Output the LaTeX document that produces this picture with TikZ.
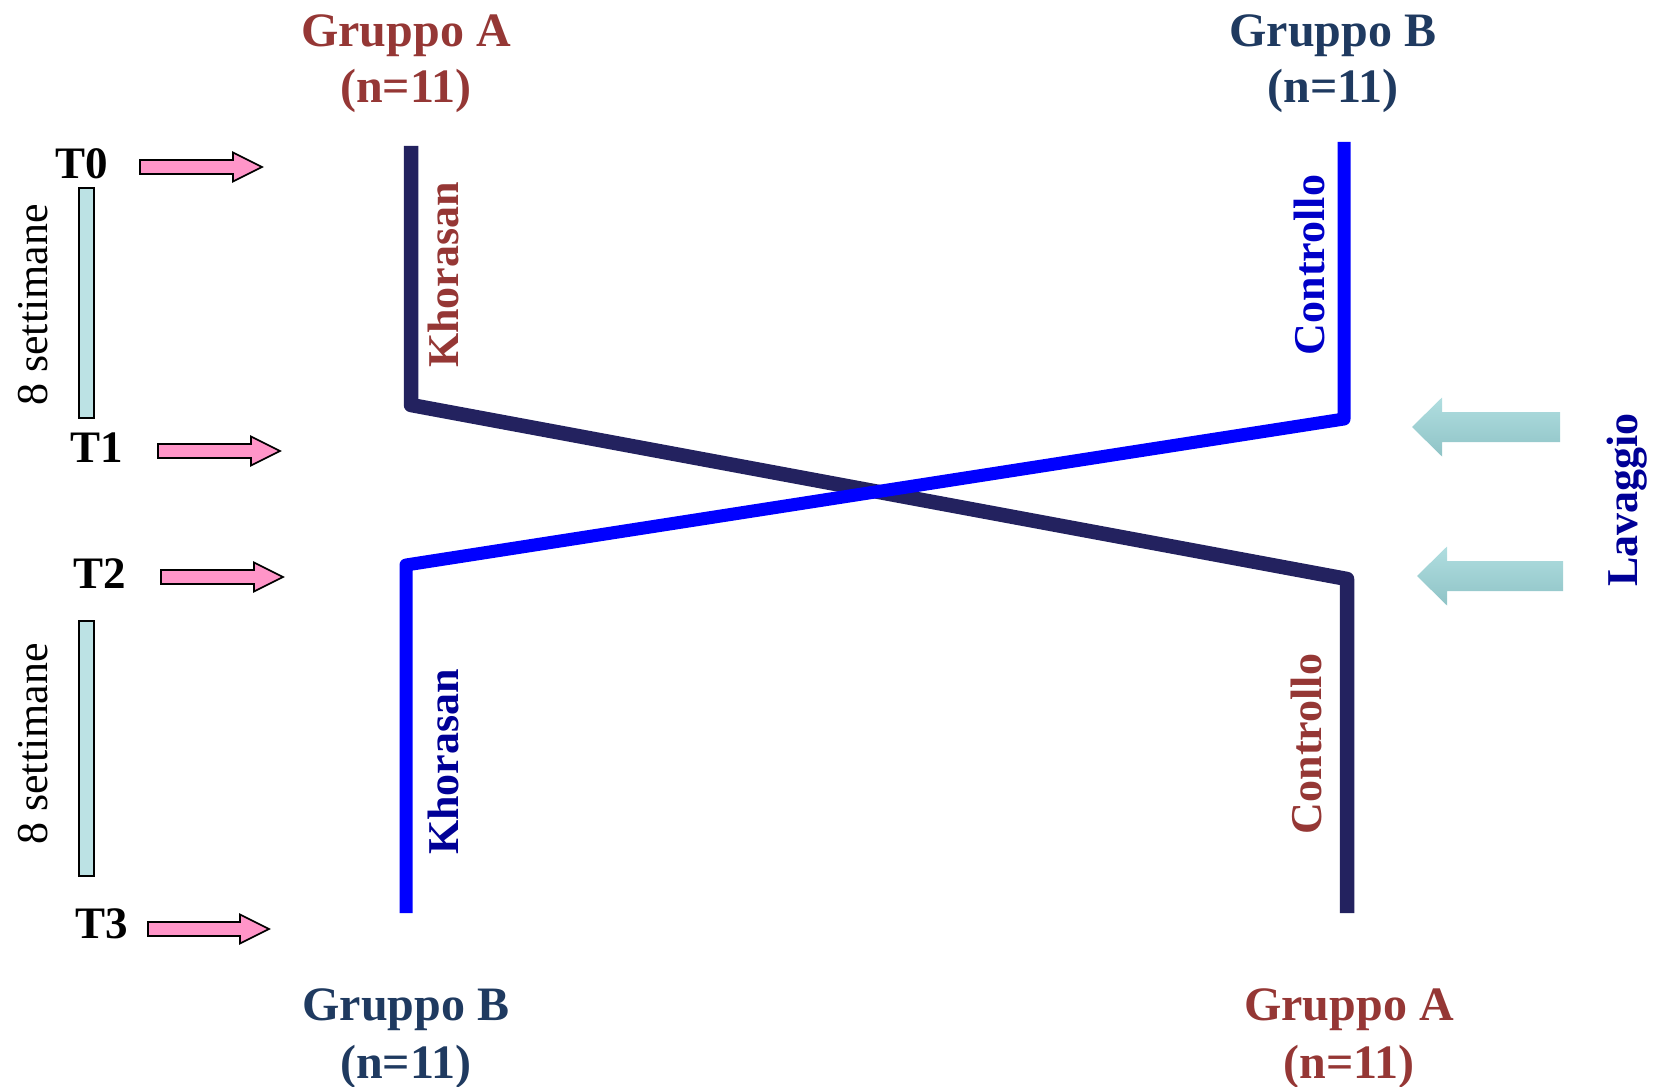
\documentclass[tikz,border=0pt]{standalone}
\usepackage{fontspec}
\setmainfont{Liberation Serif}
\usetikzlibrary{calc}
\definecolor{dred}{HTML}{953735}
\definecolor{dnavy}{HTML}{1F3A60}
\definecolor{linenavy}{HTML}{23225F}
\definecolor{lineblue}{HTML}{0000FF}
\definecolor{txtblue}{HTML}{0000C8}
\definecolor{txtdblue}{HTML}{000096}
\definecolor{pinkf}{HTML}{FF95C8}
\definecolor{barf}{HTML}{BCE2E4}
\definecolor{tealtop}{HTML}{B0DEE0}
\definecolor{tealbot}{HTML}{8FC3C6}
\newcommand\pinkarr[3]{%
  \filldraw[fill=pinkf,draw=black,line width=1.6pt,line join=miter]
  (#1,#3-7)--(#2-29,#3-7)--(#2-29,#3-14.5)--(#2,#3)--(#2-29,#3+14.5)--(#2-29,#3+7)--(#1,#3+7)--cycle;}
\newcommand\tealarr[3]{%
  \shade[top color=tealtop,bottom color=tealbot,draw=none]
  (#1,#3-15)--(#2+30,#3-15)--(#2+30,#3-29.5)--(#2,#3)--(#2+30,#3+29.5)--(#2+30,#3+15)--(#1,#3+15)--cycle;}
\begin{document}
\begin{tikzpicture}[x=1pt,y=-1pt,
  title/.style={font=\fontsize{48}{50}\selectfont\bfseries,align=center,inner sep=0pt},
  vlab/.style={font=\fontsize{44}{48}\selectfont\bfseries,rotate=90,inner sep=0pt},
  tlab/.style={font=\fontsize{45}{48}\selectfont\bfseries,inner sep=0pt},
  slab/.style={font=\fontsize{44}{48}\selectfont,rotate=90,inner sep=0pt},
  groupline/.style={line width=14.5pt,line join=round,line cap=butt},
  bar/.style={fill=barf,draw=black,line width=1.6pt}]
\useasboundingbox (0,0) rectangle (1661,1086);
% titles
\node[title,text=dred] (gA1) at (406,36) {Gruppo A};
\node[title,text=dred] (nA1) at (406,91) {(n=11)};
\node[title,text=dnavy] (gB1) at (1333,36) {Gruppo B};
\node[title,text=dnavy] (nB1) at (1333,91) {(n=11)};
\node[title,text=dnavy] (gB2) at (406,1010) {Gruppo B};
\node[title,text=dnavy] (nB2) at (406,1067) {(n=11)};
\node[title,text=dred] (gA2) at (1349,1010) {Gruppo A};
\node[title,text=dred] (nA2) at (1349,1067) {(n=11)};
% group lines
\coordinate (a0) at (411,146);
\coordinate (a1) at (411,405);
\coordinate (a2) at (1347,579);
\coordinate (a3) at (1347,913);
\coordinate (b0) at (1344,142);
\coordinate (b1) at (1344,419);
\coordinate (b2) at (406,565);
\coordinate (b3) at (406,913);
\draw[groupline,linenavy] (a0)--(a1)--(a2)--(a3);
\draw[groupline,lineblue,line width=13pt] (b0)--(b1)--(b2)--(b3);
% line labels
\node[vlab,text=dred] (kh1) at (443,275) {Khorasan};
\node[vlab,text=txtblue] (co1) at (1309,265) {Controllo};
\node[vlab,text=txtdblue] (kh2) at (443,762) {Khorasan};
\node[vlab,text=dred] (co2) at (1306,744) {Controllo};
\node[vlab,text=txtdblue] (lav) at (1627,500) {Lavaggio};
% time labels
\node[tlab] (t0) at (82,164) {T0};
\node[tlab] (t1) at (97,448) {T1};
\node[tlab] (t2) at (100,574) {T2};
\node[tlab] (t3) at (102,924) {T3};
\pinkarr{140}{262}{167}
\pinkarr{158}{280}{451}
\pinkarr{161}{283}{577}
\pinkarr{148}{269}{929}
% bars
\draw[bar] (79,188) rectangle (94,418);
\draw[bar] (79,621) rectangle (94,876);
\node[slab] (s1) at (33,305) {8 settimane};
\node[slab] (s2) at (33,744) {8 settimane};
% washout arrows
\tealarr{1560}{1412}{427}
\tealarr{1563}{1417}{576}
\end{tikzpicture}
\end{document}
